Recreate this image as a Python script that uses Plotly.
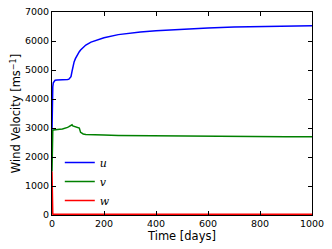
import plotly.graph_objects as go

t = [0, 0.5, 1, 2, 3, 5, 8, 12, 20, 30, 40, 50, 60, 65, 70, 73, 77, 80, 85, 90,
     95, 100, 105, 110, 115, 120, 130, 150, 172, 200, 255, 300, 340, 400, 480,
     600, 700, 800, 900, 1000]
u = [2900, 3500, 3900, 4250, 4420, 4560, 4620, 4645, 4655, 4655, 4658, 4662,
     4670, 4685, 4720, 4770, 4950, 5100, 5280, 5390, 5480, 5560, 5630, 5690,
     5740, 5780, 5860, 5960, 6030, 6110, 6220, 6270, 6310, 6350, 6400, 6450,
     6480, 6500, 6515, 6530]
v = [1500, 2400, 2750, 2880, 2920, 2935, 2940, 2945, 2950, 2955, 2965, 2985,
     3020, 3045, 3075, 3095, 3110, 3070, 3060, 3050, 3020, 3010, 3000, 2850,
     2810, 2795, 2780, 2770, 2762, 2755, 2745, 2740, 2735, 2730, 2725, 2715,
     2710, 2705, 2700, 2695]
w = [1500, 200, 60, 40, 30, 25, 25, 25, 25, 25, 25, 25, 25, 25, 25, 25, 25, 25,
     25, 25, 25, 25, 25, 25, 25, 25, 25, 25, 25, 25, 25, 25, 25, 25, 25, 25, 25,
     25, 25, 25]

series = [("u", u, "#0000ff"), ("v", v, "#008000"), ("w", w, "#ff0000")]

fig = go.Figure()
for name, vals, col in series:
    fig.add_trace(go.Scatter(x=t, y=vals, mode="lines", name=f"<i>{name}</i>",
                             line=dict(color=col, width=1.5)))

axis_common = dict(showline=True, linecolor="black", linewidth=1, mirror="ticks",
                   ticks="inside", ticklen=4, tickcolor="black", showgrid=False,
                   zeroline=False, automargin=False,
                   tickfont=dict(family="DejaVu Sans", size=9.5, color="black"))

fig.update_layout(
    width=332, height=249,
    margin=dict(l=52, r=20, t=12, b=34),
    paper_bgcolor="white", plot_bgcolor="white",
    xaxis=dict(range=[0, 1000], dtick=200, tick0=0,
               title=dict(text="Time [days]", font=dict(family="DejaVu Sans", size=11.5, color="black"), standoff=1),
               **axis_common),
    yaxis=dict(range=[0, 7000], dtick=1000, tick0=0,
               title=dict(text="Wind Velocity [ms<sup>−1</sup>]", font=dict(family="DejaVu Sans", size=11.5, color="black"), standoff=1),
               **axis_common),
    legend=dict(x=0.03, y=0.33, xanchor="left", yanchor="top", bgcolor="rgba(0,0,0,0)",
                font=dict(family="DejaVu Serif", size=11, color="black"), itemwidth=30,
                tracegroupgap=0),
    showlegend=True,
)

fig.write_html("out.html", config={"displayModeBar": False},
               post_script="document.body.style.margin='0';document.body.style.overflow='hidden';")
